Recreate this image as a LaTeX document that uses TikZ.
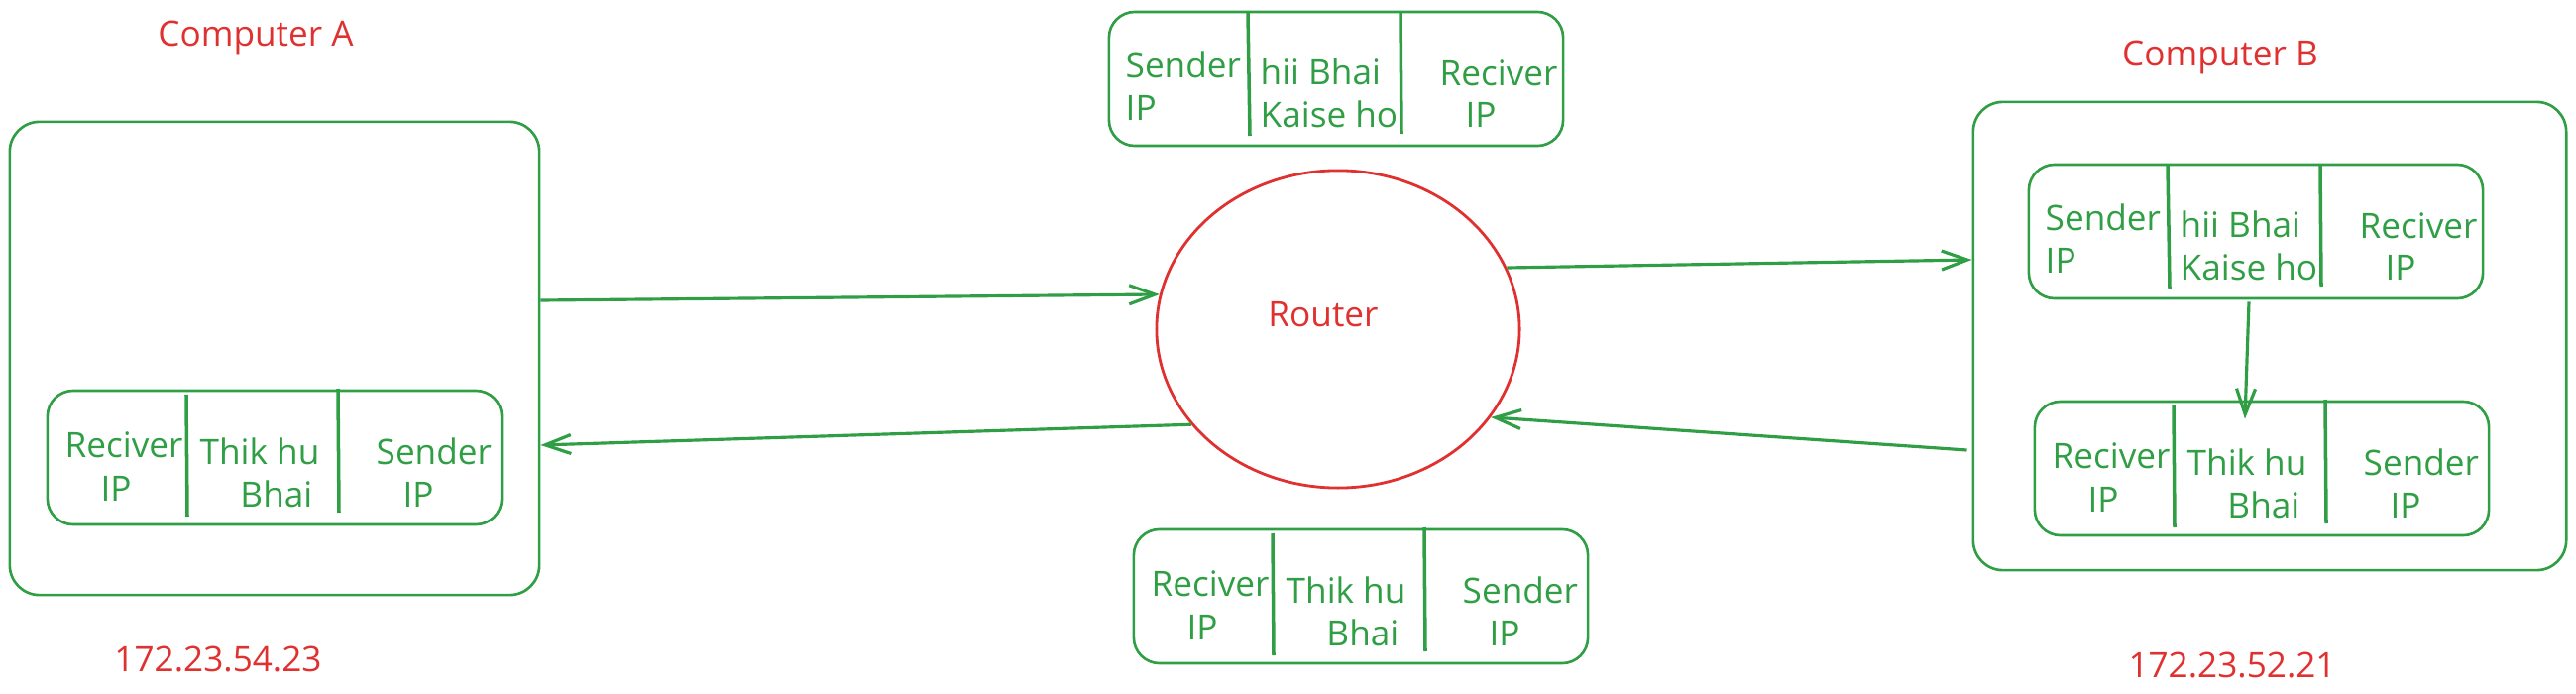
\documentclass[tikz,border=0pt]{standalone}
\usepackage{fontspec}
\setmainfont{Open Sans}
\usetikzlibrary{arrows.meta,calc,shapes.geometric}
\definecolor{exgreen}{HTML}{2F9E44}
\definecolor{exred}{HTML}{E03131}
\newcommand{\diafont}{\fontsize{10}{12}\selectfont}
\tikzset{
  bigbox/.style={draw=exgreen, line width=0.75pt, rounded corners=0.3cm, inner sep=0pt},
  pktframe/.style={draw=exgreen, line width=0.75pt, rounded corners=0.26cm,
    minimum width=4.58cm, minimum height=1.35cm, inner sep=0pt},
  divider/.style={draw=exgreen, line width=1pt},
  pkttext/.style={text=exgreen, font=\diafont, inner sep=0pt},
  redtext/.style={text=exred, font=\diafont, inner sep=0pt},
  routershape/.style={draw=exred, line width=0.8pt, ellipse, inner sep=0pt,
    minimum width=3.66cm, minimum height=3.2cm},
  conn/.style={draw=exgreen, line width=0.9pt,
    -{Straight Barb[length=0.26cm,width=0.19cm]}},
  sendpkt/.pic={
    \node[pktframe] (-box) at (229,67.5) {};
    \draw[divider] (140,1) -- (142,125);
    \draw[divider] (294,1) -- (295,123);
    \node[pkttext, anchor=base west] (-s1) at (16,66) {Sender};
    \node[pkttext, anchor=base west] (-s2) at (16,109) {IP};
    \node[pkttext, anchor=base west] (-m1) at (152,73) {hii Bhai};
    \node[pkttext, anchor=base west] (-m2) at (152,116) {Kaise ho};
    \node[pkttext, anchor=base west] (-r1) at (333,74) {Reciver};
    \node[pkttext, anchor=base] (-r2) at (375,116) {IP};
  },
  replypkt/.pic={
    \node[pktframe] (-box) at (229,67.5) {};
    \draw[divider] (140,4) -- (141,127);
    \draw[divider] (293,-2) -- (294,123);
    \node[pkttext, anchor=base west] (-r1) at (17,67) {Reciver};
    \node[pkttext, anchor=base] (-r2) at (69,111) {IP};
    \node[pkttext, anchor=base west] (-m1) at (153,74) {Thik hu};
    \node[pkttext, anchor=base east] (-m2) at (268,117) {Bhai};
    \node[pkttext, anchor=base west] (-s1) at (331,74) {Sender};
    \node[pkttext, anchor=base] (-s2) at (374,117) {IP};
  }
}
\begin{document}
\begin{tikzpicture}[x=0.01cm, y=-0.01cm]
  \useasboundingbox (0,0) rectangle (2599,700);
  % Computer A
  \node[redtext, anchor=base] (labA) at (258,47) {Computer A};
  \node[bigbox, minimum width=5.34cm, minimum height=4.77cm] (boxA) at (277,361.5) {};
  \pic (pA) at (48,394) {replypkt};
  \node[redtext, anchor=base] (ipA) at (220,677) {172.23.54.23};
  % Router and packets in transit
  \pic (pT) at (1119,12) {sendpkt};
  \node[routershape] (router) at (1350,332) {};
  \node[redtext, anchor=base] (routerlabel) at (1335,329) {Router};
  \pic (pBot) at (1144,534) {replypkt};
  % Computer B
  \node[redtext, anchor=base] (labB) at (2240,67) {Computer B};
  \node[bigbox, minimum width=5.98cm, minimum height=4.72cm] (boxB) at (2290,339) {};
  \pic (pB1) at (2047,166) {sendpkt};
  \pic (pB2) at (2053,405) {replypkt};
  \node[redtext, anchor=base] (ipB) at (2252,683) {172.23.52.21};
  % connectors
  \draw[conn] ($(boxA.east)+(0,-58.5)$) -- (router.169);
  \draw[conn] (router.213) -- ($(boxA.east)+(0,87.5)$);
  \draw[conn] (router.20) -- ($(boxB.west)+(0,-77)$);
  \draw[conn] ($(boxB.west)+(-5,115)$) -- (router.330);
  \draw[conn] ($(pB1-box.south)+(-7,2)$) -- ($(pB2-box.north)+(-17,19)$);
\end{tikzpicture}
\end{document}
